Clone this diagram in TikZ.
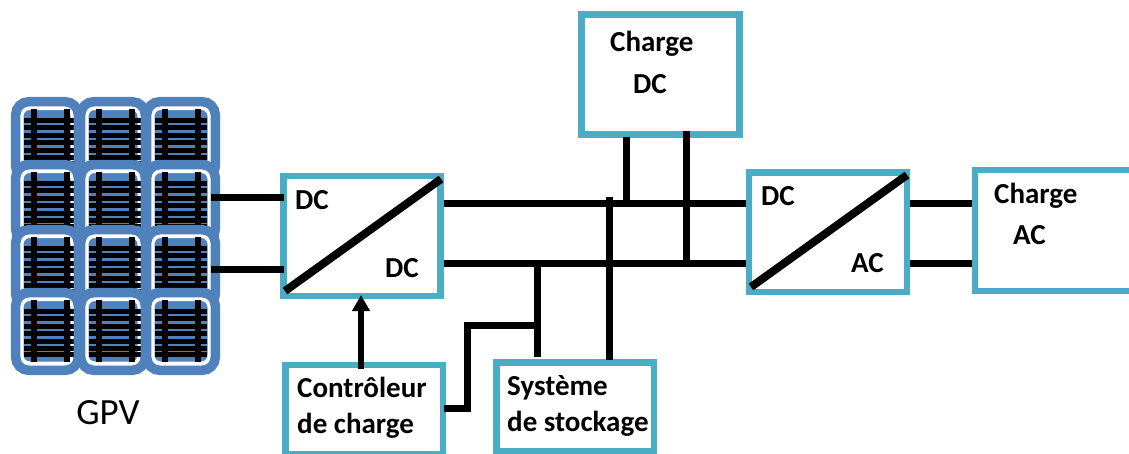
\documentclass[tikz,border=0pt]{standalone}
\usepackage{fontspec}
\setmainfont{Carlito}
\usetikzlibrary{arrows.meta}
\tikzset{
  x=1pt,y=-1pt,
  box/.style={draw=boxc,line width=6.5pt,fill=white,anchor=north west,inner sep=0pt,outer sep=0pt},
  wire/.style={line width=7pt,black},
  diag/.style={line width=8pt,black},
  lab/.style={font=\fontsize{29}{29}\selectfont\bfseries,anchor=base west,inner sep=0pt},
  cell/.style={draw=panelc,line width=9.5pt,rounded corners=13pt},
  gap/.style={draw=white,line width=4pt,rounded corners=8pt,fill=panelc},
  bar/.style={line width=5pt,black},
  post/.style={line width=5.5pt,black}
}
\definecolor{boxc}{HTML}{4BACC6}
\definecolor{panelc}{HTML}{4F81BD}
\newcommand{\pcell}[3]{% left x, top y, width
  \begin{scope}[shift={(#1,#2)}]
    \filldraw[gap] (10.5,11) rectangle (#3-10.5,75.5);
    \foreach \h in {23,30.5,38,45.5,53,60,66} \draw[bar] (12.5,\h) -- (65,\h);
    \foreach \v in {23,56} \draw[post] (\v,12) -- (\v,74);
    \draw[cell] (4.7,4.7) rectangle (#3-4.7,82.3);
  \end{scope}}
\begin{document}
\begin{tikzpicture}
\useasboundingbox (0,0) rectangle (1129,453);
% panels
\foreach \y in {97,160,225,288}{
  \pcell{11}{\y}{72}
  \pcell{76}{\y}{74}
  \pcell{142}{\y}{78}
}
\node[inner sep=0pt,minimum width=209pt,minimum height=278pt,anchor=north west] (gpv) at (11,97) {};
\node[font=\fontsize{37}{37}\selectfont,anchor=base] (gpvl) at (108,424) {GPV};
% boxes
\node[box,minimum width=157pt,minimum height=120pt] (dc1) at (283.5,176) {};
\node[box,minimum width=158pt,minimum height=120pt] (chdc) at (581.5,14.5) {};
\node[box,minimum width=158pt,minimum height=119.5pt] (dc2) at (749,172.5) {};
\node[box,minimum width=170pt,minimum height=121pt] (chac) at (975,170) {};
\node[box,minimum width=157.5pt,minimum height=89pt] (ctrl) at (285.5,365) {};
\node[box,minimum width=157.5pt,minimum height=88.5pt] (stock) at (496.5,362.5) {};
% junction coordinates
\coordinate (a1) at (dc1.west |- 0,197);
\coordinate (a2) at (dc1.west |- 0,269);
\coordinate (b1) at (dc1.east |- 0,203);
\coordinate (b2) at (dc1.east |- 0,263);
\coordinate (c1) at (dc2.west |- b1);
\coordinate (c2) at (dc2.west |- b2);
\coordinate (d1) at (dc2.east |- b1);
\coordinate (d2) at (dc2.east |- b2);
\coordinate (e1) at (chac.west |- b1);
\coordinate (e2) at (chac.west |- b2);
\draw[wire] ([xshift=-9pt]gpv.east |- a1) -- (a1);
\draw[wire] ([xshift=-9pt]gpv.east |- a2) -- (a2);
\draw[wire] ([xshift=3.5pt]b1) -- ([xshift=-3pt]c1);
\draw[wire] ([xshift=3.5pt]b2) -- ([xshift=-3pt]c2);
\draw[wire] ([xshift=3pt]d1) -- ([xshift=-3pt]e1);
\draw[wire] ([xshift=3pt]d2) -- ([xshift=-3pt]e2);
\draw[wire] ([yshift=-2pt]chdc.south -| 626,0) -- (626,203);
\draw[wire] ([yshift=3.5pt]chdc.south -| 686,0) -- (686,263);
\draw[wire] (609,197) -- ([yshift=3pt]stock.north -| 609,0);
\draw[wire] (537,263) -- (537,357);
\draw[wire] ([xshift=1pt]ctrl.east |- 0,408) -- (467,408) -- (467,325) -- (537,325);
\draw[line width=6pt,-{Triangle[width=17pt,length=16pt]}] ([yshift=-4pt]ctrl.north -| 361,0) -- ([yshift=1pt]dc1.south -| 361,0);
% diagonals
\draw[diag] (dc1.south west) ++(1.5,-5) -- (441,179);
\draw[diag] (dc2.south west) ++(2,-5) -- (907,175);
% labels
\node[lab] at (295,209) {DC};
\node[lab] at (385,277) {DC};
\node[lab] at (610,51) {Charge};
\node[lab] at (633,93) {DC};
\node[lab] at (761,205) {DC};
\node[lab] at (851,272) {AC};
\node[lab] at (994,203) {Charge};
\node[lab] at (1013,244) {AC};
\node[lab] at (297,397) {Contrôleur};
\node[lab] at (297,433) {de charge};
\node[lab] at (507,395) {Système};
\node[lab] at (507,431) {de stockage};
\end{tikzpicture}
\end{document}
